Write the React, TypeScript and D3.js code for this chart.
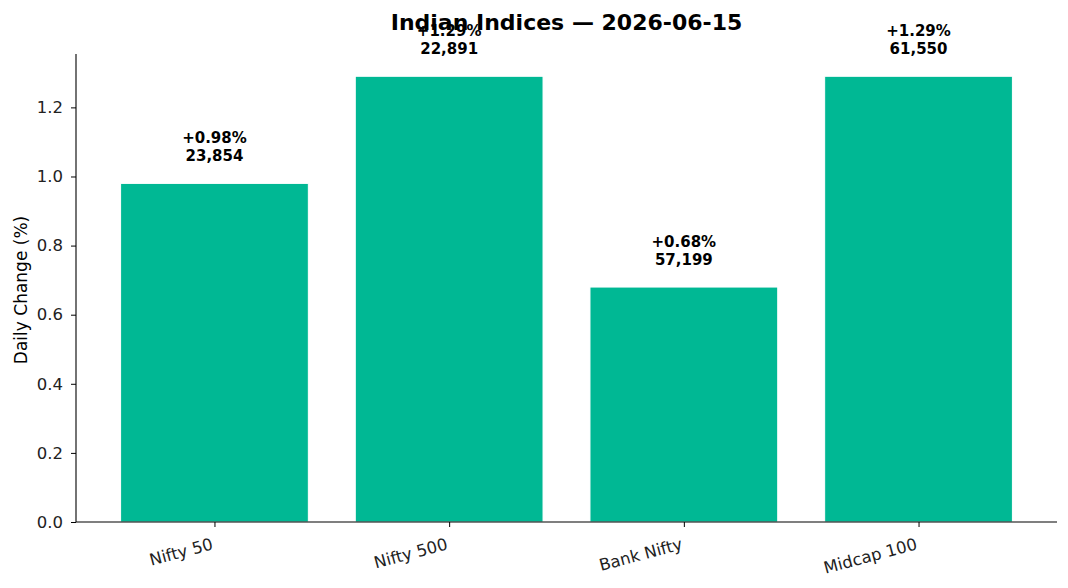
import React, { useEffect, useRef } from 'react';
import * as d3 from 'd3';

const categories = ['Nifty 50', 'Nifty 500', 'Bank Nifty', 'Midcap 100'];
const changes = [0.98, 1.29, 0.68, 1.29];
const closes = ['23,854', '22,891', '57,199', '61,550'];
const yTicks = [0, 0.2, 0.4, 0.6, 0.8, 1.0, 1.2];

const W = 1068;
const H = 588;
const FONT = '"DejaVu Sans", sans-serif';

function App() {
    const svgRef = useRef<SVGSVGElement | null>(null);

    useEffect(() => {
        if (!svgRef.current) return;
        const svg = d3.select(svgRef.current);
        svg.selectAll('*').remove();

        const left = 76, right = 1057, top = 54, bottom = 522;

        // matplotlib-like limits: bars of width 0.8, 5% margins
        const xScale = d3.scaleLinear().domain([-0.59, 3.59]).range([left, right]);
        const yScale = d3.scaleLinear().domain([0, d3.max(changes)! * 1.05]).range([bottom, top]);
        const barW = xScale(0.8) - xScale(0);

        // bars
        svg.append('g')
            .selectAll('rect')
            .data(changes)
            .join('rect')
            .attr('x', (d, i) => xScale(i) - barW / 2)
            .attr('y', d => yScale(d))
            .attr('width', barW)
            .attr('height', d => bottom - yScale(d))
            .attr('fill', '#00b894')
            .attr('stroke', 'white')
            .attr('stroke-width', 1);

        // value labels
        const labels = svg.append('g')
            .attr('font-family', FONT)
            .attr('font-size', 15)
            .attr('font-weight', 'bold')
            .attr('text-anchor', 'middle')
            .attr('fill', 'black');
        changes.forEach((d, i) => {
            const t = labels.append('text').attr('x', xScale(i));
            t.append('tspan').attr('x', xScale(i)).attr('y', yScale(d) - 40).text(`+${d.toFixed(2)}%`);
            t.append('tspan').attr('x', xScale(i)).attr('y', yScale(d) - 22).text(closes[i]);
        });

        // y axis
        const yAxis = svg.append('g')
            .attr('transform', `translate(${left},0)`)
            .call(d3.axisLeft(yScale).tickValues(yTicks).tickFormat(d3.format('.1f')).tickSize(5).tickPadding(8));
        yAxis.select('.domain').attr('d', `M0,${top}V${bottom}`).attr('stroke', 'black').attr('stroke-width', 1.1);
        yAxis.selectAll('text').attr('font-family', FONT).attr('font-size', 16.5).attr('fill', '#222');

        // x axis
        const xAxis = svg.append('g')
            .attr('transform', `translate(0,${bottom})`)
            .call(d3.axisBottom(xScale).tickValues([0, 1, 2, 3]).tickFormat((d) => categories[+d]).tickSize(5));
        xAxis.select('.domain').attr('d', `M${left},0H${right}`).attr('stroke', 'black').attr('stroke-width', 1.1);
        xAxis.selectAll('text')
            .attr('font-family', FONT)
            .attr('font-size', 16.5)
            .attr('fill', '#222')
            .attr('text-anchor', 'end')
            .attr('dy', null)
            .attr('y', 0)
            .attr('transform', 'translate(-1,27) rotate(-15)');

        // y label
        svg.append('text')
            .attr('transform', `translate(27,${(top + bottom) / 2 + 2}) rotate(-90)`)
            .attr('text-anchor', 'middle')
            .attr('font-family', FONT)
            .attr('font-size', 17)
            .text('Daily Change (%)');

        // title
        svg.append('text')
            .attr('x', (left + right) / 2)
            .attr('y', 30)
            .attr('text-anchor', 'middle')
            .attr('font-family', FONT)
            .attr('font-size', 22)
            .attr('font-weight', 'bold')
            .text('Indian Indices — 2026-06-15');
    }, []);

    return <svg ref={svgRef} width={W} height={H} style={{ position: 'absolute', left: 0, top: 0, background: 'white' }} />;
}

export default App;
